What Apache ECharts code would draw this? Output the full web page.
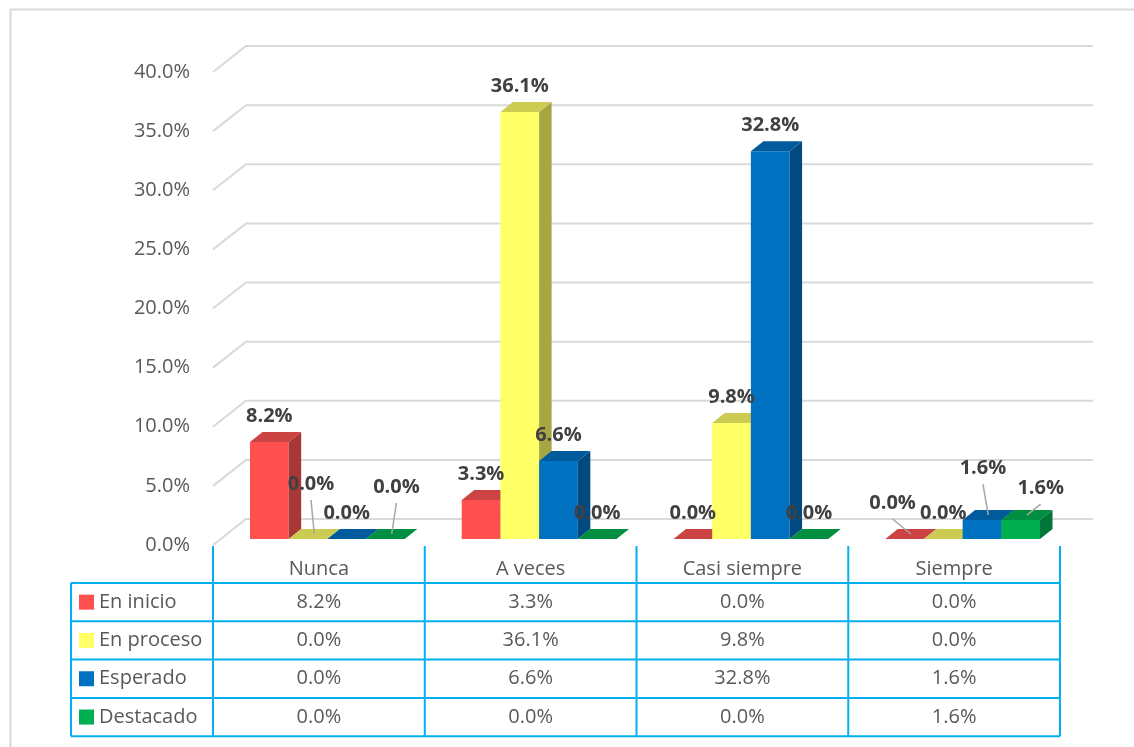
<!DOCTYPE html>
<html><head><meta charset="utf-8">
<script src="https://cdn.jsdelivr.net/npm/echarts@6/dist/echarts.min.js"></script>
<style>html,body{margin:0;padding:0;background:#fff}#c{width:1134px;height:747px}</style>
</head><body><div id="c"></div>
<script>
// ---------- data ----------
const categories = ['Nunca', 'A veces', 'Casi siempre', 'Siempre'];
const seriesNames = ['En inicio', 'En proceso', 'Esperado', 'Destacado'];
const enInicio  = [8.2, 3.3, 0.0, 0.0];
const enProceso = [0.0, 36.1, 9.8, 0.0];
const esperado  = [0.0, 6.6, 32.8, 1.6];
const destacado = [0.0, 0.0, 0.0, 1.6];
const yTicks = [0, 5, 10, 15, 20, 25, 30, 35, 40];
const seriesValues = [enInicio, enProceso, esperado, destacado];

// ---------- styles ----------
const FONT = '"Open Sans", "Noto Sans", sans-serif';
const frontColors = ['#FF5050', '#FFFF66', '#0070C0', '#00B050'];
const topColors   = ['#CC4343', '#CCCC52', '#005B9C', '#008F41'];
const sideColors  = ['#A83737', '#A6A642', '#004A80', '#00753A'];
const DX = 12.5, DY = -10;        // bar depth projection
const SHIFT_X = 8.5, SHIFT_Y = -6; // bar row position behind the front plane
const WALL_X = 33, WALL_Y = -26;  // back wall projection
const GROUP_FRAC = 0.731;
// manual label moves (series,category) -> [dx, dy]; these get leader lines
const labelMoves = {
  '1,0': [3, -29], '3,0': [11, -26],
  '0,3': [-12, -10], '2,3': [1, -26], '3,3': [20, -6]
};
const fmt = v => v.toFixed(1) + '%';

function barRenderer(s) {
  return function (params, api) {
    const ci = api.value(0), v = api.value(1);
    const base = api.coord([ci, 0]);
    const topP = api.coord([ci, v]);
    const band = api.size([1, 0])[0];
    const gw = band * GROUP_FRAC, bw = gw / 4;
    const x0 = base[0] + SHIFT_X - gw / 2 + s * bw;
    const x1 = x0 + bw;
    const yb = base[1] + SHIFT_Y;
    const yt = yb - (base[1] - topP[1]);
    const children = [
      { type: 'polygon', shape: { points: [[x0, yt], [x1, yt], [x1, yb], [x0, yb]] }, style: { fill: frontColors[s] } },
      { type: 'polygon', shape: { points: [[x1, yt], [x1 + DX, yt + DY], [x1 + DX, yb + DY], [x1, yb]] }, style: { fill: sideColors[s] } },
      { type: 'polygon', shape: { points: [[x0, yt], [x0 + DX, yt + DY], [x1 + DX, yt + DY], [x1, yt]] }, style: { fill: topColors[s] } }
    ];
    let lx = (x0 + x1) / 2, ly = yt - 26;
    const mv = labelMoves[s + ',' + ci];
    if (mv) {
      lx += mv[0]; ly += mv[1];
      children.push({ type: 'line', z2: 90,
        shape: { x1: lx, y1: ly + 16, x2: (x0 + x1) / 2 + DX / 2, y2: yt + DY / 2 },
        style: { stroke: '#A6A6A6', lineWidth: 1.5 } });
    }
    children.push({ type: 'text', z2: 100,
      style: { text: fmt(v), x: lx, y: ly, align: 'center', verticalAlign: 'middle',
        fontFamily: FONT, fontSize: 20, fontWeight: 'bold', fill: '#404040' } });
    return { type: 'group', children };
  };
}

const chart = echarts.init(document.getElementById('c'));
const option = {
  backgroundColor: '#fff',
  animation: false,
  grid: { left: 213, right: 74, top: 72, bottom: 202 },
  xAxis: {
    type: 'category', data: categories,
    axisLine: { show: false }, axisTick: { show: false },
    axisLabel: { margin: 24, verticalAlign: 'middle', color: '#595959', fontFamily: FONT, fontSize: 20 }
  },
  yAxis: {
    type: 'value', min: 0, max: 40, interval: 5,
    axisLine: { show: false }, axisTick: { show: false }, splitLine: { show: false },
    axisLabel: { margin: 23, color: '#595959', fontFamily: FONT, fontSize: 20, formatter: v => fmt(v) }
  },
  series: [
    { type: 'custom', silent: true, z: 1, data: yTicks.map(v => [0, v]),
      renderItem: (params, api) => {
        const cs = params.coordSys;
        const y = api.coord([0, api.value(1)])[1];
        const xl = cs.x, xr = cs.x + cs.width;
        return { type: 'polyline',
          shape: { points: [[xl, y], [xl + WALL_X, y + WALL_Y], [xr + WALL_X, y + WALL_Y]] },
          style: { stroke: '#D9D9D9', lineWidth: 2, fill: null } };
      } }
  ].concat(seriesValues.map((vals, s) => ({
    type: 'custom', name: seriesNames[s], z: 2, silent: true,
    data: vals.map((v, i) => [i, v]),
    renderItem: barRenderer(s)
  })))
};
chart.setOption(option);

// ---------- data table ----------
const TABLE_LEFT = 71, HEADER_TOP = 546, TABLE_TOP = 583, ROW_H = 38.3;
const BLUE = '#00B0F0';
const xs = categories.map((_, i) => chart.convertToPixel({ xAxisIndex: 0 }, i));
const band = xs[1] - xs[0];
const edges = [xs[0] - band / 2].concat(xs.map(x => x + band / 2));
const tableBottom = TABLE_TOP + ROW_H * seriesNames.length;
const g = [];
g.push({ type: 'rect', shape: { x: 10.5, y: 9.5, width: 1300, height: 900 }, style: { fill: null, stroke: '#D9D9D9', lineWidth: 2 }, silent: true });
edges.forEach(x => g.push({ type: 'line', shape: { x1: x, y1: HEADER_TOP, x2: x, y2: tableBottom }, style: { stroke: BLUE, lineWidth: 2 } }));
g.push({ type: 'line', shape: { x1: TABLE_LEFT, y1: TABLE_TOP, x2: TABLE_LEFT, y2: tableBottom }, style: { stroke: BLUE, lineWidth: 2 } });
for (let k = 0; k <= seriesNames.length; k++) {
  const y = TABLE_TOP + k * ROW_H;
  g.push({ type: 'line', shape: { x1: TABLE_LEFT, y1: y, x2: edges[edges.length - 1], y2: y }, style: { stroke: BLUE, lineWidth: 2 } });
}
seriesNames.forEach((name, s) => {
  const cy = TABLE_TOP + (s + 0.5) * ROW_H;
  g.push({ type: 'rect', shape: { x: 79, y: cy - 7.5, width: 15, height: 15 }, style: { fill: frontColors[s] } });
  g.push({ type: 'text', style: { text: name, x: 99, y: cy, align: 'left', verticalAlign: 'middle', fontFamily: FONT, fontSize: 20, fill: '#595959' } });
  seriesValues[s].forEach((v, i) => {
    g.push({ type: 'text', style: { text: fmt(v), x: xs[i], y: cy, align: 'center', verticalAlign: 'middle', fontFamily: FONT, fontSize: 20, fill: '#595959' } });
  });
});
chart.setOption({ graphic: { elements: g } });
</script>
</body></html>
